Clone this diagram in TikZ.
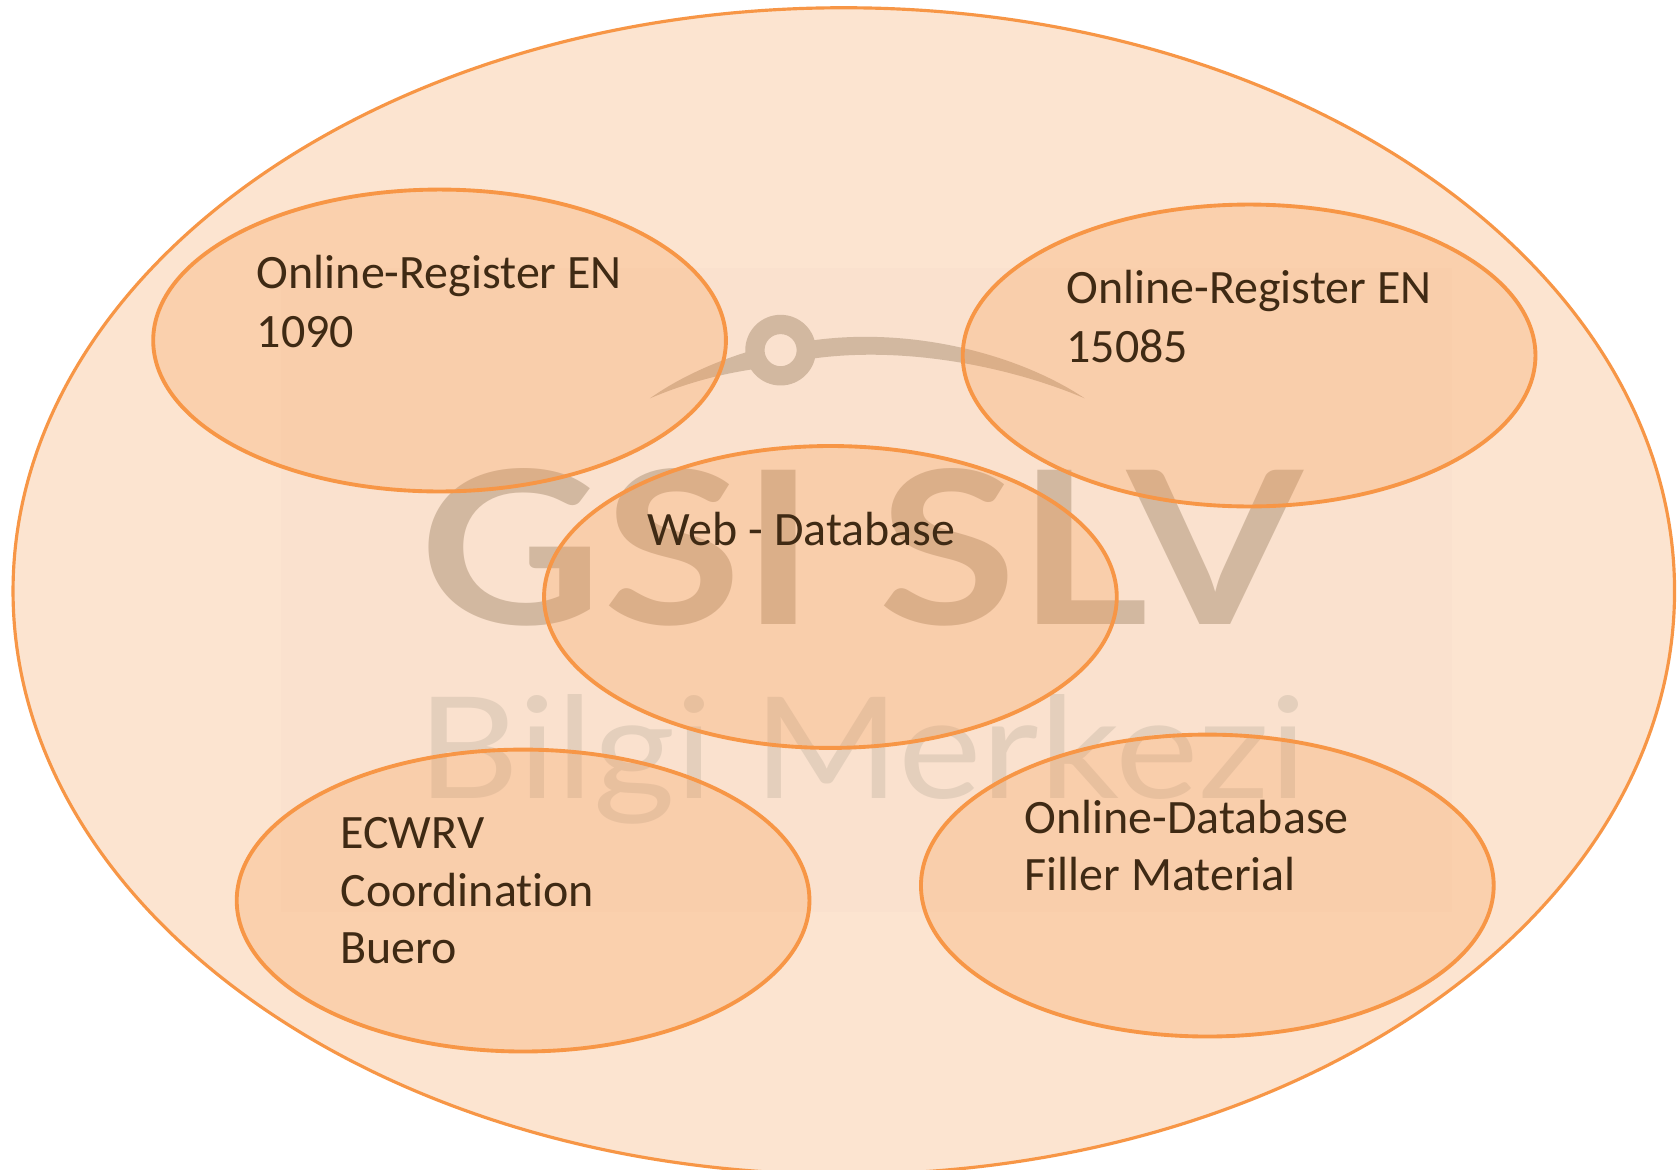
\documentclass[tikz,border=0pt]{standalone}
\usepackage{graphicx}
\usepackage{fontspec}
\setmainfont[Ligatures=NoCommon]{Carlito}
\newfontfamily\logofont{Lato}
\newfontfamily\logobold{Lato Bold}
\usetikzlibrary{shapes.geometric}
\definecolor{ringline}{HTML}{F79646}
\definecolor{wmpanel}{HTML}{FAE1CE}
\definecolor{wmstrong}{HTML}{D2B8A0}
\definecolor{wmlight}{HTML}{E4CFBC}
\definecolor{textbrown}{HTML}{3F2A14}
\tikzset{
  outerring/.style={ellipse,draw=ringline,line width=0.9pt,fill=ringline,fill opacity=0.25,draw opacity=1,inner sep=0pt,outer sep=0pt,minimum width=16.62cm,minimum height=11.67cm},
  innerring/.style={ellipse,draw=ringline,line width=1.1pt,fill=ringline,fill opacity=0.25,draw opacity=1,inner sep=0pt,outer sep=0pt,minimum width=5.729cm,minimum height=3.02cm},
  caption/.style={anchor=base west,inner sep=0pt,outer sep=0pt,text=textbrown,font=\fontsize{13.65}{16.4}\selectfont},
  wmark/.style={inner sep=0pt,outer sep=0pt,anchor=base west}
}
\begin{document}
\begin{tikzpicture}[x=0.010708cm,y=-0.010708cm]
\useasboundingbox (0,0) rectangle (1568,1092.6);
\fill[white] (0,0) rectangle (1568,1092.6);
\begin{scope}
\clip (0,0) rectangle (1568,1092.6);
\node[outerring] (outer) at (788,552) {};
\fill[wmpanel] (262,250) rectangle (1356,852);
% watermark
\node[wmark,text=wmstrong] (gsi) at (392,583) {\resizebox{8.82cm}{1.56cm}{\logobold GSI SLV}};
\node[wmark,text=wmlight] (bilgi) at (390,746) {\resizebox{8.9cm}{1.04cm}{\logofont Bilgi Merkezi}};
\fill[wmstrong,even odd rule] (729,327) circle[radius=33] (729,327) circle[radius=15];
\fill[wmstrong] (607,372) .. controls (635,352) and (670,337) .. (700,328) -- (702,345) .. controls (670,350) and (640,358) .. (607,372) -- cycle;
\fill[wmstrong] (758,318) .. controls (850,305) and (950,330) .. (1013,372) .. controls (950,345) and (850,322) .. (758,335) -- cycle;
\node[innerring] (reg1090) at (410.5,318) {};
\node[innerring] (reg15085) at (1166.5,332) {};
\node[innerring] (web) at (775.5,557.5) {};
\node[innerring] (ecwrv) at (488.5,841) {};
\node[innerring] (filler) at (1127.5,827) {};
\end{scope}
\node[caption] (t1a) at (240,269) {Online-Register EN};
\node[caption] (t1b) at (240,324.5) {1090};
\node[caption] (t2a) at (996,283) {Online-Register EN};
\node[caption] (t2b) at (996,338.5) {15085};
\node[caption] (t3) at (605,509) {Web - Database};
\node[caption] (t4a) at (318,792) {ECWRV};
\node[caption] (t4b) at (318,847) {Coordination};
\node[caption] (t4c) at (318,900) {Buero};
\node[caption] (t5a) at (957,778) {Online-Database};
\node[caption] (t5b) at (957,832) {Filler Material};
\end{tikzpicture}
\end{document}
